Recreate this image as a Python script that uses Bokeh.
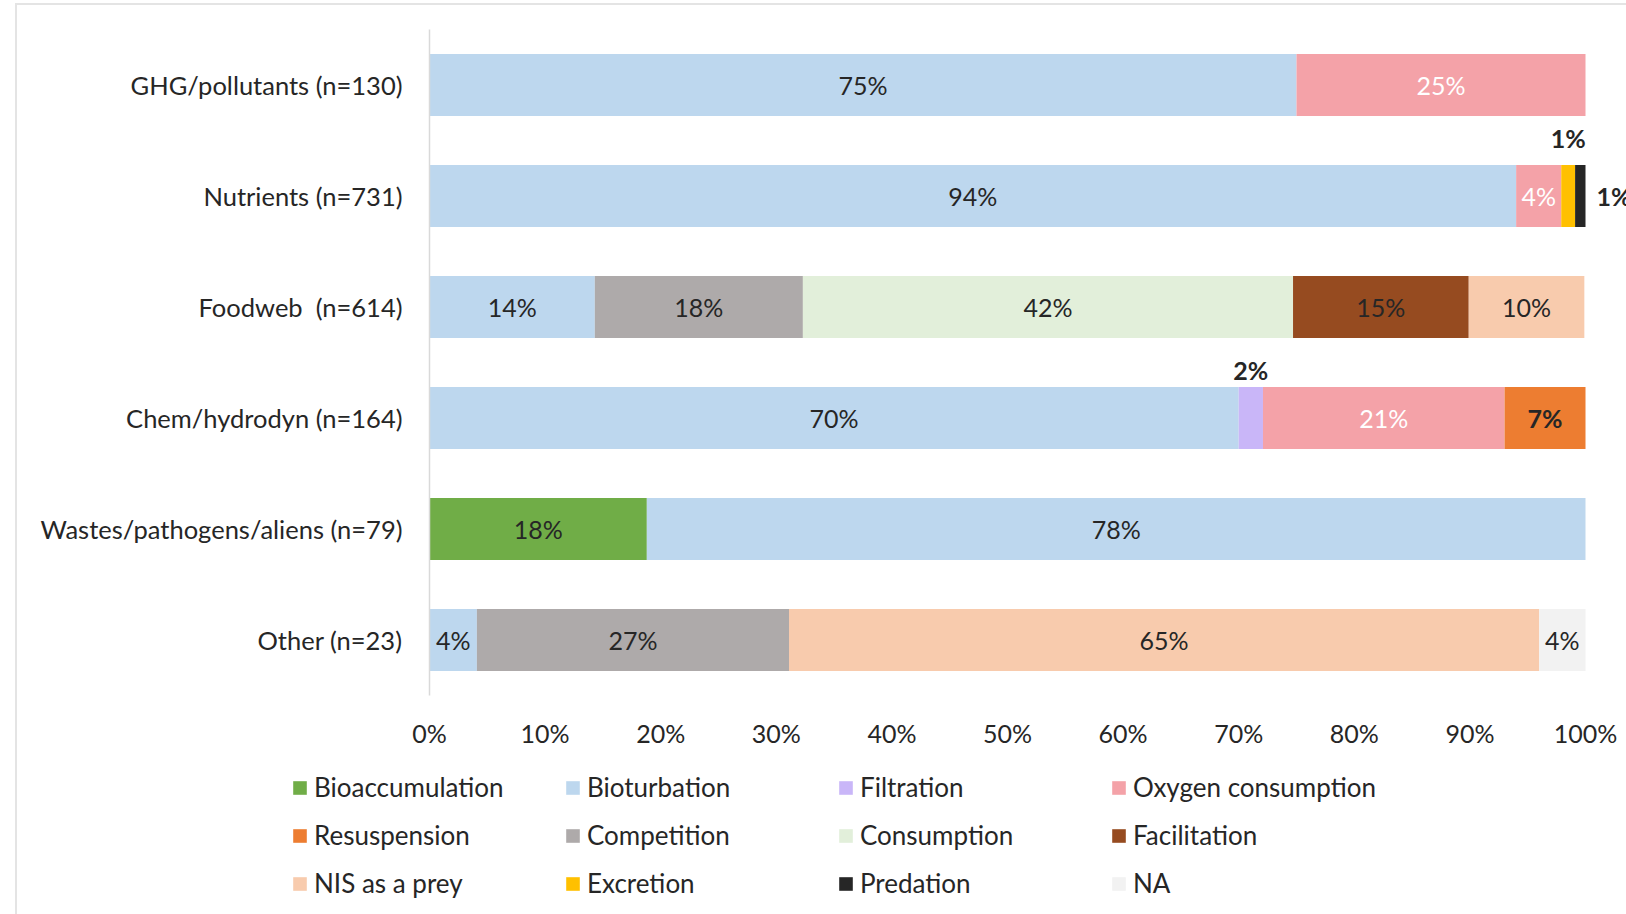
from bokeh.plotting import figure
from bokeh.layouts import column
from bokeh.models import ColumnDataSource, FactorRange, Range1d, Legend, LegendItem, PrintfTickFormatter, FixedTicker
from bokeh.core.properties import value
from bokeh.embed import file_html
from bokeh.resources import INLINE

FONT = "Lato"
TEXT = "#262626"

categories = ["GHG/pollutants (n=130)", "Nutrients (n=731)", "Foodweb \u00a0(n=614)",
              "Chem/hydrodyn (n=164)", "Wastes/pathogens/aliens (n=79)", "Other (n=23)"]

series = ["Bioaccumulation", "Bioturbation", "Filtration", "Oxygen consumption",
          "Resuspension", "Competition", "Consumption", "Facilitation",
          "NIS as a prey", "Excretion", "Predation", "NA"]

colors = ["#70AD47", "#BDD7EE", "#C9B6F8", "#F4A2A8",
          "#ED7D31", "#AEAAAA", "#E2EFDA", "#964B20",
          "#F8CBAD", "#FFC000", "#262626", "#F2F2F2"]

# percentage shares (bar widths) per category
bioaccumulation = [0, 0, 0, 0, 18.8, 0]
bioturbation = [75, 94, 14.3, 70, 81.2, 4.1]
filtration = [0, 0, 0, 2.1, 0, 0]
oxygen_consumption = [25, 3.9, 0, 20.9, 0, 0]
resuspension = [0, 0, 0, 7, 0, 0]
competition = [0, 0, 18, 0, 0, 27]
consumption = [0, 0, 42.4, 0, 0, 0]
facilitation = [0, 0, 15.2, 0, 0, 0]
nis_as_prey = [0, 0, 10, 0, 0, 64.9]
excretion = [0, 1.2, 0, 0, 0, 0]
predation = [0, 0.9, 0, 0, 0, 0]
na = [0, 0, 0, 0, 0, 4]

# data labels as printed on the chart (one per non-empty segment, left to right)
segment_labels = [
    ["75%", "25%"],
    ["94%", "4%", "1%", "1%"],
    ["14%", "18%", "42%", "15%", "10%"],
    ["70%", "2%", "21%", "7%"],
    ["18%", "78%"],
    ["4%", "27%", "65%", "4%"],
]

values = [bioaccumulation, bioturbation, filtration, oxygen_consumption, resuspension,
          competition, consumption, facilitation, nis_as_prey, excretion, predation, na]

# label placement exceptions: (category index, series name) -> (x_offset, y_offset, align, at_end)
outside = {
    (1, "Excretion"): (0, -58, "center", False),
    (1, "Predation"): (11, 0, "left", True),
    (3, "Filtration"): (0, -48, "center", False),
}
white_series = {"Oxygen consumption"}
bold_series = {"Resuspension"}

data = {"cat": categories}
for name, vals in zip(series, values):
    data[name] = vals
source = ColumnDataSource(data)

# layout (page content starts at x0, y0 after the frame border)
X0, Y0 = 17, 5
W = 1626 - X0
FRAME_L = 429 - X0
FRAME_T = 29 - Y0
FRAME_H = 666
H1 = 755 - Y0
H2 = 914 - 755
frame_w = W - FRAME_L
x_end = 100.0 * frame_w / 1156.0

p = figure(width=W, height=H1, output_backend="svg", toolbar_location=None,
           y_range=FactorRange(factors=list(reversed(categories)), range_padding=0),
           x_range=Range1d(0, x_end),
           min_border_left=FRAME_L, min_border_top=FRAME_T,
           min_border_bottom=H1 - FRAME_T - FRAME_H, min_border_right=0)
p.frame_align = False
p.outline_line_color = None
p.xgrid.grid_line_color = None
p.ygrid.grid_line_color = None
p.background_fill_color = "white"
p.border_fill_color = "white"

renderers = p.hbar_stack(series, y="cat", height=0.56, fill_color=colors, line_color=None, source=source)

# data labels
lab = {k: [] for k in ["x", "y", "text", "color", "xo", "yo", "align"]}
labb = {k: [] for k in ["x", "y", "text", "color", "xo", "yo", "align"]}
for ci, cat in enumerate(categories):
    left = 0.0
    li = 0
    for name, vals in zip(series, values):
        v = vals[ci]
        if v <= 0:
            continue
        txt = segment_labels[ci][li]
        li += 1
        mid = left + v / 2.0
        end = left + v
        left = end
        target = lab
        xo, yo, align = 0, 0, "center"
        x = mid
        color = "#FFFFFF" if name in white_series else TEXT
        if (ci, name) in outside:
            xo, yo, align, at_end = outside[(ci, name)]
            if at_end:
                x = end
            color = TEXT
            target = labb
        elif name in bold_series:
            target = labb
        target["x"].append(x)
        target["y"].append(cat)
        target["text"].append(txt)
        target["color"].append(color)
        target["xo"].append(xo)
        target["yo"].append(yo)
        target["align"].append(align)

for d, style in ((lab, "normal"), (labb, "bold")):
    p.text(x="x", y="y", text="text", source=ColumnDataSource(d),
           text_color="color", x_offset="xo", y_offset="yo", text_align="align",
           text_baseline="middle", text_font=value(FONT), text_font_size="25px",
           text_font_style=style)

# axes
p.xaxis.ticker = FixedTicker(ticks=[0, 10, 20, 30, 40, 50, 60, 70, 80, 90, 100])
p.xaxis.formatter = PrintfTickFormatter(format="%d%%")
p.xaxis.axis_line_color = None
p.xaxis.major_tick_line_color = None
p.xaxis.minor_tick_line_color = None
p.xaxis.major_label_standoff = 16
p.xaxis.major_label_text_font = FONT
p.xaxis.major_label_text_font_size = "25px"
p.xaxis.major_label_text_color = TEXT

p.yaxis.axis_line_color = "#D9D9D9"
p.yaxis.axis_line_width = 1.5
p.yaxis.major_tick_line_color = None
p.yaxis.minor_tick_line_color = None
p.yaxis.major_label_standoff = 21
p.yaxis.major_label_text_font = FONT
p.yaxis.major_label_text_font_size = "25.5px"
p.yaxis.major_label_text_color = TEXT

# legend figure below
lf = figure(width=W, height=H2, output_backend="svg", toolbar_location=None,
            x_axis_type=None, y_axis_type=None, min_border=0,
            x_range=Range1d(0, 1), y_range=Range1d(0, 1))
lf.frame_align = False
lf.outline_line_color = None
lf.xgrid.grid_line_color = None
lf.ygrid.grid_line_color = None
lf.border_fill_color = "white"
lf.background_fill_color = "white"
# legend-only renderers (placed outside the visible range)
legend_renderers = [lf.hbar(y=[50], left=[50], right=[51], height=0.5, fill_color=c, line_color=None)
                    for c in colors]
items = [LegendItem(label=name, renderers=[r]) for name, r in zip(series, legend_renderers)]
ROW_H = 48
GLYPH = 17
legend = Legend(items=items, location=(291 - X0, H2 - (763 - 755) - 3 * ROW_H),
                orientation="horizontal", ncols=4,
                glyph_width=GLYPH, glyph_height=GLYPH, label_standoff=6, spacing=0,
                label_width=250, label_height=ROW_H, padding=0, margin=0,
                label_text_font=FONT, label_text_font_size="26px", label_text_color=TEXT,
                border_line_color=None, background_fill_alpha=0)
lf.add_layout(legend, "center")

layout = column(p, lf, spacing=0,
                styles={"margin-left": "15px", "margin-top": "3px",
                        "border-left": "2px solid #E4E4E4", "border-top": "2px solid #E4E4E4"})

open("out.html", "w").write(file_html(layout, INLINE))
